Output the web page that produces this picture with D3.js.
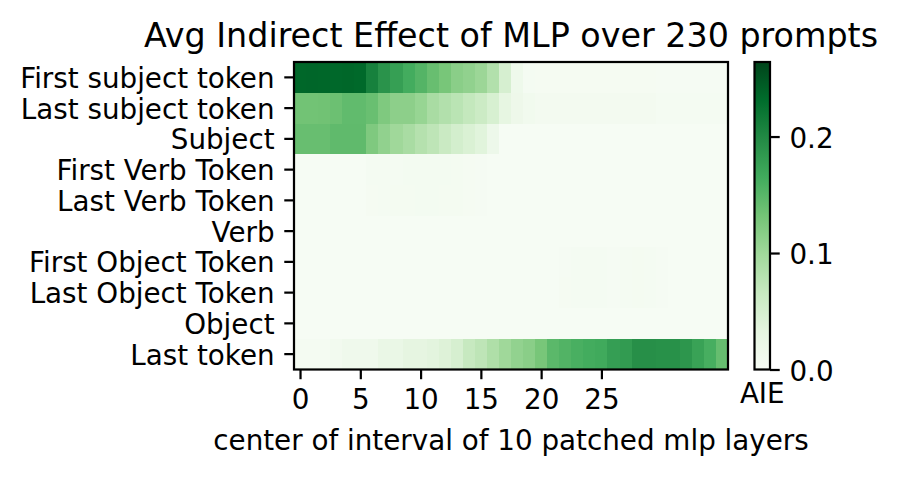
<!DOCTYPE html>
<html>
<head>
<meta charset="utf-8">
<script src="https://cdn.jsdelivr.net/npm/d3@7"></script>
<style>
	body { margin: 0; background: #fff; }
	text { font-family: "DejaVu Sans", sans-serif; fill: #000; }
</style>
</head>
<body>
<div id="chart"></div>
<script>
const title = "Avg Indirect Effect of MLP over 230 prompts"
const x_label = "center of interval of 10 patched mlp layers"
const cbar_label = "AIE"

const tokens = ["First subject token", "Last subject token", "Subject", "First Verb Token", "Last Verb Token",
	"Verb", "First Object Token", "Last Object Token", "Object", "Last token"]

const layers = d3.range(36)   // column index, 0..35
const x_ticks = [0, 5, 10, 15, 20, 25]
const cbar_ticks = [0, 0.1, 0.2]
const aie_min = 0
const aie_max = 0.264

// one array per row, 36 values each
const first_subject = [0.236, 0.237, 0.236, 0.235, 0.236, 0.234, 0.209, 0.190, 0.177, 0.164, 0.153, 0.140,
	0.129, 0.116, 0.111, 0.103, 0.084, 0.050, 0.016, 0.005, 0.004, 0.004, 0.004, 0.004,
	0.004, 0.004, 0.004, 0.004, 0.004, 0.004, 0.003, 0.003, 0.003, 0.003, 0.003, 0.003]
const last_subject = [0.133, 0.133, 0.134, 0.137, 0.144, 0.144, 0.139, 0.124, 0.114, 0.114, 0.106, 0.092,
	0.084, 0.077, 0.069, 0.061, 0.048, 0.030, 0.017, 0.011, 0.008, 0.008, 0.008, 0.008,
	0.008, 0.008, 0.008, 0.008, 0.008, 0.008, 0.005, 0.005, 0.005, 0.005, 0.005, 0.005]
const subject = [0.140, 0.140, 0.140, 0.145, 0.145, 0.145, 0.124, 0.111, 0.100, 0.092, 0.082, 0.074,
	0.063, 0.053, 0.045, 0.037, 0.018, 0.001, 0.001, 0.001, 0.001, 0.001, 0.001, 0.001,
	0.001, 0.001, 0.001, 0.001, 0.001, 0.001, 0.001, 0.001, 0.001, 0.001, 0.001, 0.001]
const first_verb = [0.002, 0.002, 0.002, 0.002, 0.002, 0.002, 0.005, 0.005, 0.005, 0.007, 0.007, 0.007,
	0.007, 0.006, 0.004, 0.003, 0.002, 0.002, 0.002, 0.002, 0.002, 0.002, 0.002, 0.002,
	0.002, 0.002, 0.002, 0.002, 0.002, 0.002, 0.002, 0.002, 0.002, 0.002, 0.002, 0.002]
const last_verb = [0.002, 0.002, 0.002, 0.002, 0.002, 0.002, 0.004, 0.005, 0.006, 0.006, 0.007, 0.007,
	0.006, 0.006, 0.004, 0.003, 0.002, 0.002, 0.002, 0.002, 0.002, 0.002, 0.002, 0.002,
	0.002, 0.002, 0.002, 0.002, 0.002, 0.002, 0.002, 0.002, 0.002, 0.002, 0.002, 0.002]
const verb = [0.001, 0.001, 0.001, 0.001, 0.001, 0.001, 0.002, 0.002, 0.002, 0.002, 0.002, 0.002,
	0.002, 0.002, 0.002, 0.002, 0.001, 0.001, 0.001, 0.001, 0.001, 0.001, 0.001, 0.001,
	0.001, 0.001, 0.001, 0.001, 0.001, 0.001, 0.001, 0.001, 0.001, 0.001, 0.001, 0.001]
const first_object = [0.001, 0.001, 0.001, 0.001, 0.001, 0.001, 0.001, 0.001, 0.001, 0.001, 0.001, 0.001,
	0.001, 0.001, 0.001, 0.001, 0.001, 0.001, 0.001, 0.001, 0.002, 0.002, 0.003, 0.005,
	0.005, 0.005, 0.003, 0.005, 0.006, 0.005, 0.003, 0.002, 0.002, 0.002, 0.002, 0.002]
const last_object = [0.001, 0.001, 0.001, 0.001, 0.001, 0.001, 0.001, 0.001, 0.001, 0.001, 0.001, 0.001,
	0.001, 0.001, 0.001, 0.001, 0.001, 0.001, 0.001, 0.001, 0.002, 0.002, 0.004, 0.005,
	0.005, 0.005, 0.003, 0.005, 0.006, 0.005, 0.003, 0.002, 0.002, 0.002, 0.002, 0.002]
const object = [0.001, 0.001, 0.001, 0.001, 0.001, 0.001, 0.001, 0.001, 0.001, 0.001, 0.001, 0.001,
	0.001, 0.001, 0.001, 0.001, 0.001, 0.001, 0.001, 0.001, 0.001, 0.001, 0.001, 0.001,
	0.001, 0.001, 0.001, 0.001, 0.001, 0.001, 0.001, 0.001, 0.001, 0.001, 0.001, 0.001]
const last_token = [0.005, 0.005, 0.005, 0.010, 0.014, 0.014, 0.014, 0.024, 0.024, 0.032, 0.032, 0.035,
	0.041, 0.049, 0.066, 0.074, 0.087, 0.100, 0.110, 0.116, 0.129, 0.148, 0.154, 0.160,
	0.164, 0.166, 0.178, 0.181, 0.194, 0.194, 0.192, 0.192, 0.187, 0.174, 0.161, 0.141]

const rows = [first_subject, last_subject, subject, first_verb, last_verb, verb, first_object, last_object, object, last_token]

// matplotlib "Greens" (linear between the 9 colorbrewer stops)
const greens = ["#f7fcf5", "#e5f5e0", "#c7e9c0", "#a1d99b", "#74c476", "#41ab5d", "#238b45", "#006d2c", "#00441b"]

const W = 898, H = 477
const px = 200 / 72   // figure was saved at 200 dpi
const tick_len = 3.5 * px, tick_pad = 3.5 * px, lw = 0.8 * px
const fs = 10 * px

const ax = { left: 294, right: 728, top: 62, bottom: 369.5 }
const cb = { left: 754.5, right: 770 }

const svg = d3.select("#chart").append("svg")
	.attr("width", W)
	.attr("height", H)

const xs = d3.scaleLinear().domain([-0.5, 35.5]).range([ax.left, ax.right])
const ys = d3.scaleBand().domain(tokens).range([ax.top, ax.bottom])
const cs = d3.scaleLinear()
	.domain(greens.map((d, i) => aie_min + (aie_max - aie_min) * i / (greens.length - 1)))
	.range(greens)
	.interpolate(d3.interpolateRgb)
	.clamp(true)

const cells = []
rows.forEach((r, i) => r.forEach((v, j) => cells.push({ token: tokens[i], layer: layers[j], value: v })))

svg.append("g").selectAll("rect")
	.data(cells).enter().append("rect")
		.attr("x", d => xs(d.layer - 0.5))
		.attr("y", d => ys(d.token))
		.attr("width", xs(1) - xs(0) + 0.4)
		.attr("height", ys.bandwidth() + 0.4)
		.attr("fill", d => cs(d.value))
		.attr("shape-rendering", "crispEdges")

svg.append("rect")
	.attr("x", ax.left).attr("y", ax.top)
	.attr("width", ax.right - ax.left).attr("height", ax.bottom - ax.top)
	.style("fill", "none").style("stroke", "#000").style("stroke-width", lw)

function styleAxis(g) {
	g.select(".domain").remove()
	g.selectAll(".tick line").style("stroke", "#000").style("stroke-width", lw)
	g.selectAll(".tick text").style("font-size", fs + "px").style("font-family", "DejaVu Sans")
}

svg.append("g")
	.attr("transform", "translate(0," + ax.bottom + ")")
	.call(d3.axisBottom(xs).tickValues(x_ticks).tickSize(tick_len).tickPadding(tick_pad))
	.call(styleAxis)
	.selectAll(".tick text").attr("dy", "0.71em")

svg.append("g")
	.attr("transform", "translate(" + ax.left + ",0)")
	.call(d3.axisLeft(ys).tickSize(tick_len).tickPadding(tick_pad))
	.call(styleAxis)
	.selectAll(".tick text").attr("dy", "0.38em")

// title and x label
svg.append("text")
	.attr("x", (ax.left + ax.right) / 2).attr("y", 47)
	.attr("text-anchor", "middle")
	.style("font-size", 12 * px + "px")
	.text(title)

svg.append("text")
	.attr("x", (ax.left + ax.right) / 2).attr("y", 450)
	.attr("text-anchor", "middle")
	.style("font-size", fs + "px")
	.text(x_label)

// colorbar
const cb_ys = d3.scaleLinear().domain([aie_min, aie_max]).range([ax.bottom, ax.top])
const grad = svg.append("defs").append("linearGradient")
	.attr("id", "cbgrad")
	.attr("x1", 0).attr("y1", 1).attr("x2", 0).attr("y2", 0)
grad.selectAll("stop")
	.data(greens).enter().append("stop")
		.attr("offset", (d, i) => i / (greens.length - 1))
		.attr("stop-color", d => d)

svg.append("rect")
	.attr("x", cb.left).attr("y", ax.top)
	.attr("width", cb.right - cb.left).attr("height", ax.bottom - ax.top)
	.style("fill", "url(#cbgrad)")
	.style("stroke", "#000").style("stroke-width", lw)

svg.append("g")
	.attr("transform", "translate(" + cb.right + ",0)")
	.call(d3.axisRight(cb_ys).tickValues(cbar_ticks).tickFormat(d3.format(".1f")).tickSize(tick_len).tickPadding(tick_pad))
	.call(styleAxis)
	.selectAll(".tick text").attr("dy", "0.38em")

svg.append("text")
	.attr("x", (cb.left + cb.right) / 2).attr("y", 402.5)
	.attr("text-anchor", "middle")
	.style("font-size", fs + "px")
	.text(cbar_label)
</script>
</body>
</html>
